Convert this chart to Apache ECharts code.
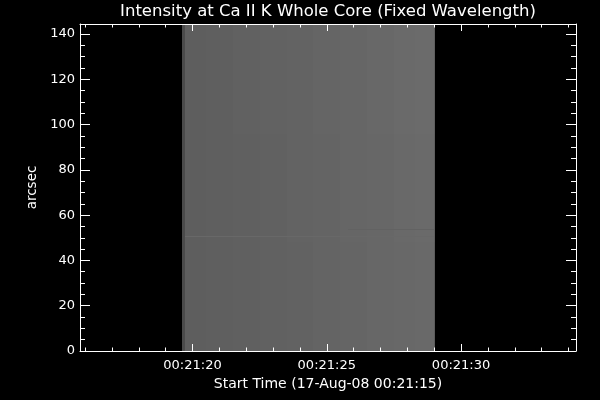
<!DOCTYPE html>
<html>
<head>
<meta charset="utf-8">
<script src="https://cdn.jsdelivr.net/npm/echarts@6/dist/echarts.min.js"></script>
<style>html,body{margin:0;padding:0;background:#000;}#c{width:600px;height:400px;}</style>
</head>
<body>
<div id="c"></div>
<script>
// ---- data ----
const titleText = 'Intensity at Ca II K Whole Core (Fixed Wavelength)';
const xName = 'Start Time (17-Aug-08 00:21:15)';
const yName = 'arcsec';
// x in seconds after 00:21:00
const xMin = 15.81, xMax = 34.28;
const yMin = 0, yMax = 144.4;
const timeTicks = [20, 25, 30];
const timeLabels = ['00:21:20', '00:21:25', '00:21:30'];
const minorTimeTicks = [16, 17, 18, 19, 20, 21, 22, 23, 24, 25, 26, 27, 28, 29, 30, 31, 32, 33, 34];
// raster image: column edges (s), row edges (arcsec), grey level per column (rows bottom->top)
const colEdges = [19.62, 19.72, 20.5, 21.5, 22.5, 23.5, 24.5, 25.5, 26.5, 27.5, 28.3, 28.98, 29.03];
const rowEdges = [0, 48, 96, 144.4];
const greyCol0 = [74, 74, 74];
const greyCol1 = [94, 94, 94];
const greyCol2 = [95, 95, 95];
const greyCol3 = [96, 96, 97];
const greyCol4 = [97, 97, 98];
const greyCol5 = [98, 99, 99];
const greyCol6 = [100, 100, 101];
const greyCol7 = [101, 102, 102];
const greyCol8 = [103, 103, 104];
const greyCol9 = [104, 105, 106];
const greyCol10 = [105, 106, 107];
const greyCol11 = [92, 94, 95];
// thin horizontal features: [x0, x1, y0, y1, grey]
const featureX0 = [19.72, 25.8];
const featureX1 = [28.98, 28.98];
const featureY0 = [50.4, 53.5];
const featureY1 = [50.8, 54.0];
const featureGrey = [104, 98];

// ---- build ----
const greyCols = [greyCol0, greyCol1, greyCol2, greyCol3, greyCol4, greyCol5, greyCol6, greyCol7, greyCol8, greyCol9, greyCol10, greyCol11];
const cells = [];
for (let i = 0; i < greyCols.length; i++) {
  for (let j = 0; j < rowEdges.length - 1; j++) {
    cells.push([colEdges[i], colEdges[i + 1], rowEdges[j], rowEdges[j + 1], greyCols[i][j]]);
  }
}
for (let k = 0; k < featureX0.length; k++) {
  cells.push([featureX0[k], featureX1[k], featureY0[k], featureY1[k], featureGrey[k]]);
}

const FONT = 'DejaVu Sans';
const chart = echarts.init(document.getElementById('c'), null, {renderer: 'canvas'});
const axisCommon = {
  type: 'value', min: xMin, max: xMax, z: 10,
  splitLine: {show: false}
};
chart.setOption({
  backgroundColor: '#000',
  animation: false,
  title: {
    text: titleText, left: 328, top: 3, textAlign: 'center', padding: 0,
    textStyle: {color: '#fff', fontFamily: FONT, fontSize: 16.5, fontWeight: 'normal'}
  },
  grid: {left: 80, right: 24, top: 24, bottom: 49, containLabel: false},
  xAxis: [
    Object.assign({}, axisCommon, {
      position: 'bottom',
      axisLine: {show: true, onZero: false, lineStyle: {color: '#fff', width: 1}},
      axisTick: {show: true, inside: true, length: 7, customValues: timeTicks, lineStyle: {color: '#fff'}},
      axisLabel: {show: true, customValues: timeTicks, margin: 8, color: '#fff', fontFamily: FONT, fontSize: 13,
        formatter: v => timeLabels[timeTicks.indexOf(Math.round(v))] || ''},
      name: xName, nameLocation: 'middle', nameGap: 23,
      nameTextStyle: {color: '#fff', fontFamily: FONT, fontSize: 14}
    }),
    Object.assign({}, axisCommon, {
      position: 'bottom',
      axisLine: {show: false, onZero: false},
      axisTick: {show: true, inside: true, length: 3.5, customValues: minorTimeTicks, lineStyle: {color: '#fff'}},
      axisLabel: {show: false}
    }),
    Object.assign({}, axisCommon, {
      position: 'top',
      axisLine: {show: true, onZero: false, lineStyle: {color: '#fff', width: 1}},
      axisTick: {show: true, inside: true, length: 7, customValues: timeTicks, lineStyle: {color: '#fff'}},
      axisLabel: {show: false}
    }),
    Object.assign({}, axisCommon, {
      position: 'top',
      axisLine: {show: false, onZero: false},
      axisTick: {show: true, inside: true, length: 3.5, customValues: minorTimeTicks, lineStyle: {color: '#fff'}},
      axisLabel: {show: false}
    })
  ],
  yAxis: [
    {
      type: 'value', min: yMin, max: yMax, interval: 20, position: 'left', z: 10,
      splitLine: {show: false},
      axisLine: {show: true, onZero: false, lineStyle: {color: '#fff', width: 1}},
      axisTick: {show: true, inside: true, length: 10, lineStyle: {color: '#fff'}},
      minorTick: {show: true, splitNumber: 4, length: 5, lineStyle: {color: '#fff'}},
      axisLabel: {show: true, margin: 5, color: '#fff', fontFamily: FONT, fontSize: 13, showMaxLabel: false},
      name: yName, nameLocation: 'middle', nameGap: 40, nameRotate: 90,
      nameTextStyle: {color: '#fff', fontFamily: FONT, fontSize: 13.5}
    },
    {
      type: 'value', min: yMin, max: yMax, interval: 20, position: 'right', z: 10,
      splitLine: {show: false},
      axisLine: {show: true, onZero: false, lineStyle: {color: '#fff', width: 1}},
      axisTick: {show: true, inside: true, length: 10, lineStyle: {color: '#fff'}},
      minorTick: {show: true, splitNumber: 4, length: 5, lineStyle: {color: '#fff'}},
      axisLabel: {show: false}
    }
  ],
  series: [{
    type: 'custom',
    xAxisIndex: 0, yAxisIndex: 0,
    clip: true,
    encode: {x: [0, 1], y: [2, 3]},
    data: cells,
    renderItem: function (params, api) {
      const p0 = api.coord([api.value(0), api.value(3)]);
      const p1 = api.coord([api.value(1), api.value(2)]);
      const l = Math.round(p0[0]), r = Math.round(p1[0]);
      const t = Math.round(p0[1]), b = Math.round(p1[1]);
      const g = api.value(4);
      return {
        type: 'rect',
        shape: {x: l, y: t, width: Math.max(1, r - l), height: Math.max(1, b - t)},
        style: {fill: 'rgb(' + g + ',' + g + ',' + g + ')'}
      };
    }
  }]
});
</script>
</body>
</html>
